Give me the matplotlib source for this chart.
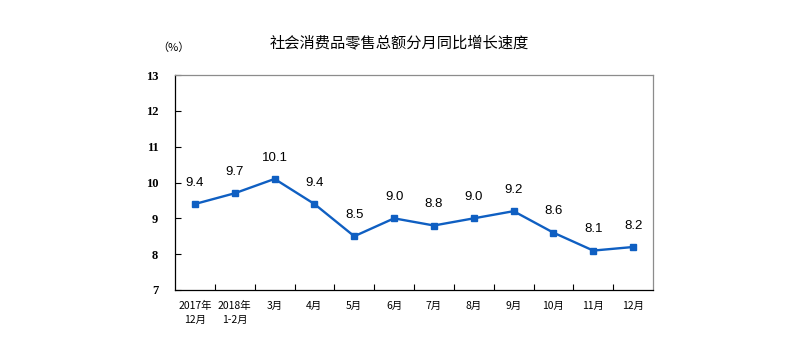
import matplotlib
matplotlib.use("Agg")
import matplotlib.pyplot as plt

plt.rcParams["font.family"] = ["Noto Sans CJK SC", "DejaVu Sans"]

months = ["2017年\n12月", "2018年\n1-2月", "3月", "4月", "5月", "6月",
          "7月", "8月", "9月", "10月", "11月", "12月"]
growth = [9.4, 9.7, 10.1, 9.4, 8.5, 9.0, 8.8, 9.0, 9.2, 8.6, 8.1, 8.2]
y_ticks = [7, 8, 9, 10, 11, 12, 13]

line_color = "#0f5fc2"

fig = plt.figure(figsize=(7.98, 3.56), dpi=100)
ax = fig.add_axes([0.2193, 0.1854, 0.599, 0.6039])

xs = list(range(len(months)))
ax.plot(xs, growth, color=line_color, linewidth=1.7, marker="s",
        markersize=5, markerfacecolor=line_color, markeredgecolor=line_color)
for x, v in zip(xs, growth):
    ax.annotate(f"{v:.1f}", xy=(x, v), xytext=(0, 11), textcoords="offset points",
                ha="center", va="bottom", fontsize=9.5, family="Liberation Sans")

ax.set_xlim(-0.5, len(months) - 0.5)
ax.set_ylim(7, 13)
ax.set_yticks(y_ticks)
ax.set_yticklabels([str(t) for t in y_ticks], fontsize=9, family="Liberation Serif",
                   fontweight="bold")

# ticks sit on category boundaries, labels at category centres
ax.set_xticks([i + 0.5 for i in xs[:-1]])
ax.set_xticklabels([])
ax.set_xticks(xs, minor=True)
ax.set_xticklabels(months, minor=True, fontsize=7.5, linespacing=1.5,
                   fontweight="medium")
ax.tick_params(axis="x", which="minor", length=0, pad=8)
ax.tick_params(axis="x", which="major", direction="in", length=4, width=0.8)
ax.tick_params(axis="y", direction="in", length=4, width=0.8, pad=12)

ax.spines["left"].set_color("black")
ax.spines["bottom"].set_color("black")
ax.spines["top"].set_color("#8c8c8c")
ax.spines["right"].set_color("#8c8c8c")
for s in ax.spines.values():
    s.set_linewidth(0.9)

fig.text(0.5, 0.88, "社会消费品零售总额分月同比增长速度", ha="center", va="center",
         fontsize=11, fontweight="medium")
fig.text(0.218, 0.865, "（%）", ha="center", va="center", fontsize=8)

fig.savefig("out.png", dpi=100)
